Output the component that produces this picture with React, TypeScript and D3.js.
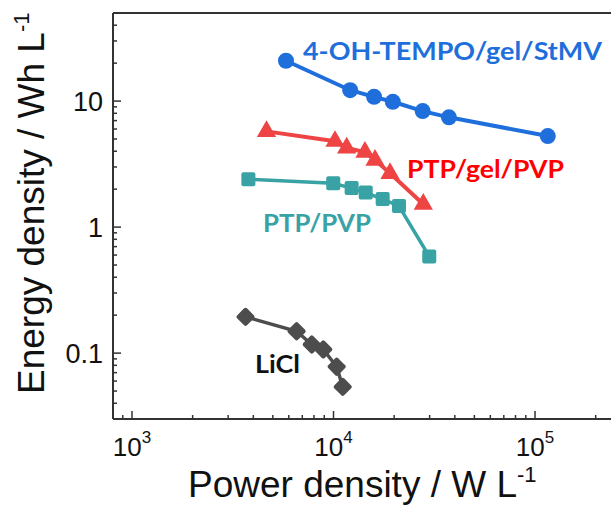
import React from 'react'
import * as d3 from 'd3'

// data (power density W/L, energy density Wh/L)
const tempoPower = [5810, 12100, 15900, 19700, 27700, 37400, 115700]
const tempoEnergy = [20.9, 12.2, 10.8, 9.87, 8.33, 7.43, 5.28]

const ptpGelPower = [4650, 10170, 11620, 14320, 16070, 19070, 27900]
const ptpGelEnergy = [5.75, 4.8, 4.25, 3.93, 3.4, 2.67, 1.52]

const ptpPower = [3780, 9970, 12300, 14450, 17540, 21130, 29860]
const ptpEnergy = [2.4, 2.23, 2.04, 1.88, 1.67, 1.47, 0.585]

const liclPower = [3660, 6560, 7800, 8900, 10370, 11110]
const liclEnergy = [0.194, 0.149, 0.117, 0.107, 0.078, 0.054]

const xMajor = [1e3, 1e4, 1e5]
const xMajorExp = ['3', '4', '5']
const yMajor = [0.1, 1, 10]
const yMajorLabels = ['0.1', '1', '10']

const W = 611
const H = 508
const left = 113
const top = 13
const bottom = 419
const right = 650

function minorTicks(lo: number, hi: number) {
  const out: number[] = []
  for (let e = -3; e <= 6; e++) {
    for (let m = 2; m <= 9; m++) {
      const v = m * Math.pow(10, e)
      if (v > lo && v < hi) out.push(v)
    }
  }
  return out
}

export default function App() {
  const x = d3.scaleLog().domain([805, 3.72e5]).range([left, right])
  const y = d3.scaleLog().domain([0.03, 50]).range([bottom, top])

  const line = d3.line<[number, number]>()
    .x(d => x(d[0]))
    .y(d => y(d[1]))

  const zip = (a: number[], b: number[]) => a.map((v, i) => [v, b[i]] as [number, number])

  const tempo = zip(tempoPower, tempoEnergy)
  const ptpGel = zip(ptpGelPower, ptpGelEnergy)
  const ptp = zip(ptpPower, ptpEnergy)
  const licl = zip(liclPower, liclEnergy)

  const tri = d3.symbol().type(d3.symbolTriangle).size(160)()
  const axisColor = '#333'

  return (
    <svg width={W} height={H} style={{ position: 'absolute', left: 0, top: 0, background: '#fff' }}
      fontFamily="'Liberation Sans', Arial, sans-serif">
      {/* frame */}
      <line x1={left} x2={right} y1={top} y2={top} stroke={axisColor} strokeWidth={2} />
      <line x1={left} x2={right} y1={bottom} y2={bottom} stroke={axisColor} strokeWidth={2} />
      <line x1={left} x2={left} y1={top} y2={bottom} stroke={axisColor} strokeWidth={2} />

      {/* x ticks */}
      {xMajor.map(v => (
        <line key={'xm' + v} x1={x(v)} x2={x(v)} y1={bottom} y2={bottom - 8} stroke={axisColor} strokeWidth={1.5} />
      ))}
      {minorTicks(805, 3.72e5).map(v => (
        <line key={'xn' + v} x1={x(v)} x2={x(v)} y1={bottom} y2={bottom - 4} stroke={axisColor} strokeWidth={1.5} />
      ))}
      {xMajor.map((v, i) => (
        <text key={'xl' + v} x={x(v)} y={456} fontSize={26} textAnchor="middle" fill="#111">
          10<tspan fontSize={17} dy={-13}>{xMajorExp[i]}</tspan>
        </text>
      ))}

      {/* y ticks */}
      {yMajor.map(v => (
        <line key={'ym' + v} x1={left} x2={left + 8} y1={y(v)} y2={y(v)} stroke={axisColor} strokeWidth={1.5} />
      ))}
      {minorTicks(0.03, 50).map(v => (
        <line key={'yn' + v} x1={left} x2={left + 4} y1={y(v)} y2={y(v)} stroke={axisColor} strokeWidth={1.5} />
      ))}
      {yMajor.map((v, i) => (
        <text key={'yl' + v} x={103} y={y(v) + 10} fontSize={27} textAnchor="end" fill="#111">
          {yMajorLabels[i]}
        </text>
      ))}

      {/* axis titles */}
      <text x={188} y={497} fontSize={37} fill="#111">
        Power density / W L<tspan fontSize={22} dy={-15}>-1</tspan>
      </text>
      <text transform="translate(44,394) rotate(-90)" fontSize={37} fill="#111">
        Energy density / Wh L<tspan fontSize={22} dy={-15}>-1</tspan>
      </text>

      {/* series */}
      <path d={line(tempo) || ''} fill="none" stroke="#1E6FDC" strokeWidth={4} />
      {tempo.map((d, i) => (
        <circle key={'c' + i} cx={x(d[0])} cy={y(d[1])} r={8} fill="#1E6FDC" />
      ))}

      <path d={line(ptpGel) || ''} fill="none" stroke="#EE4444" strokeWidth={4} />
      {ptpGel.map((d, i) => (
        <path key={'t' + i} d={tri || ''} transform={`translate(${x(d[0])},${y(d[1])})`} fill="#EE4444" />
      ))}

      <path d={line(ptp) || ''} fill="none" stroke="#38A2A4" strokeWidth={3.5} />
      {ptp.map((d, i) => (
        <rect key={'s' + i} x={x(d[0]) - 7} y={y(d[1]) - 7} width={14} height={14} rx={2} fill="#38A2A4" />
      ))}

      <path d={line(licl) || ''} fill="none" stroke="#4D4D4D" strokeWidth={3.5} />
      {licl.map((d, i) => (
        <rect key={'d' + i} x={-7} y={-7} width={14} height={14} rx={2} fill="#4D4D4D"
          transform={`translate(${x(d[0])},${y(d[1])}) rotate(45)`} />
      ))}

      {/* series labels */}
      <g fontFamily="Lato, 'Open Sans', sans-serif" fontWeight="bold" fontSize={24}>
        <text x={303} y={60} fill="#1E6FDC" textLength={299} lengthAdjust="spacingAndGlyphs">4-OH-TEMPO/gel/StMV</text>
        <text x={407} y={178} fill="#FF0000" textLength={157} lengthAdjust="spacingAndGlyphs">PTP/gel/PVP</text>
        <text x={263} y={232} fill="#38A2A4" textLength={108} lengthAdjust="spacingAndGlyphs">PTP/PVP</text>
        <text x={255} y={373} fill="#111" textLength={45} lengthAdjust="spacingAndGlyphs">LiCl</text>
      </g>
    </svg>
  )
}
